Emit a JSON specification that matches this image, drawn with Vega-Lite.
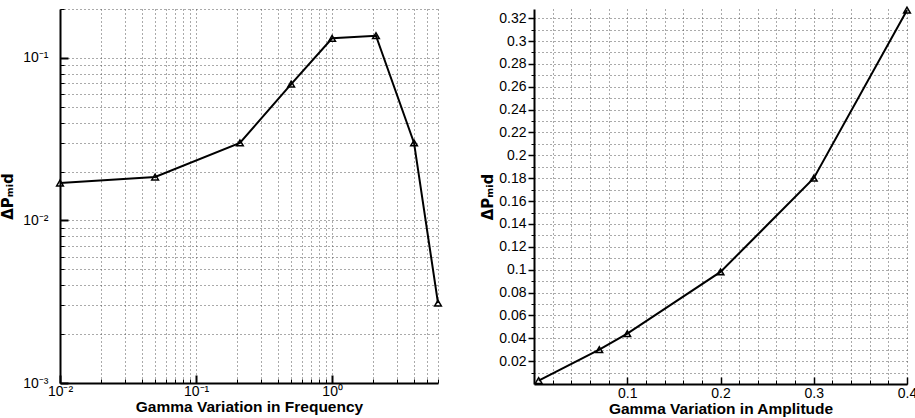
{
  "$schema": "https://vega.github.io/schema/vega-lite/v6.json",
  "padding": {"left": 0, "top": 4, "right": 0, "bottom": 0},
  "spacing": 35,
  "config": {
    "view": {"stroke": null},
    "font": "Liberation Sans",
    "axis": {"labelColor": "black", "titleColor": "black", "labelFontSize": 14, "titleFontSize": 15.5, "titleFontWeight": "bold", "domainColor": "black", "domainWidth": 2, "tickColor": "black", "gridColor": "#555", "gridDash": [1, 3], "gridWidth": 1}
  },
  "datasets": {
    "freq": [
      {"gamma": 0.01, "dP": 0.017},
      {"gamma": 0.05, "dP": 0.0185},
      {"gamma": 0.21, "dP": 0.030},
      {"gamma": 0.5, "dP": 0.069},
      {"gamma": 1.0, "dP": 0.132},
      {"gamma": 2.1, "dP": 0.137},
      {"gamma": 4.0, "dP": 0.030},
      {"gamma": 6.0, "dP": 0.0031}
    ],
    "amp": [
      {"gamma": 0.005, "dP": 0.003},
      {"gamma": 0.07, "dP": 0.030},
      {"gamma": 0.1, "dP": 0.044},
      {"gamma": 0.2, "dP": 0.098},
      {"gamma": 0.3, "dP": 0.18},
      {"gamma": 0.4, "dP": 0.327}
    ]
  },
  "hconcat": [
    {
      "width": 378,
      "height": 374,
      "data": {"name": "freq"},
      "resolve": {"axis": {"x": "independent", "y": "independent"}},
      "layer": [
        {
          "mark": {"type": "line", "color": "black", "strokeWidth": 2},
          "encoding": {
            "x": {"field": "gamma", "type": "quantitative", "scale": {"type": "log", "domain": [0.01, 6], "nice": false},
              "axis": {"orient": "bottom", "values": [0.01, 0.1, 1], "labelExpr": "datum.value < 0.05 ? '10⁻²' : datum.value < 0.5 ? '10⁻¹' : '10⁰'", "tickSize": -8, "tickWidth": 2, "grid": false, "labelPadding": 9, "title": "Gamma Variation in Frequency", "titlePadding": 1, "labelFlush": false}},
            "y": {"field": "dP", "type": "quantitative", "scale": {"type": "log", "domain": [0.001, 0.2], "nice": false},
              "axis": {"orient": "left", "values": [0.001, 0.01, 0.1], "labelExpr": "datum.value < 0.005 ? '10⁻³' : datum.value < 0.05 ? '10⁻²' : '10⁻¹'", "tickSize": -8, "tickWidth": 2, "grid": false, "labelPadding": 20, "title": "ΔPₘᵢd", "titleFont": "DejaVu Sans", "titleFontSize": 15, "titlePadding": 7, "labelFlush": false}}
          }
        },
        {
          "mark": {"type": "point", "shape": "triangle-up", "filled": false, "stroke": "black", "strokeWidth": 1.5, "size": 45, "opacity": 1},
          "encoding": {
            "x": {"field": "gamma", "type": "quantitative", "scale": {"type": "log", "domain": [0.01, 6], "nice": false},
              "axis": {"orient": "bottom", "values": [0.02, 0.03, 0.04, 0.05, 0.06, 0.07, 0.08, 0.09, 0.1, 0.2, 0.3, 0.4, 0.5, 0.6, 0.7, 0.8, 0.9, 1, 2, 3, 4, 5, 6], "labels": false, "domain": false, "tickSize": -4, "tickWidth": 1, "grid": true, "title": null}},
            "y": {"field": "dP", "type": "quantitative", "scale": {"type": "log", "domain": [0.001, 0.2], "nice": false},
              "axis": {"orient": "left", "values": [0.002, 0.003, 0.004, 0.005, 0.006, 0.007, 0.008, 0.009, 0.01, 0.02, 0.03, 0.04, 0.05, 0.06, 0.07, 0.08, 0.09, 0.1, 0.2], "labels": false, "domain": false, "tickSize": -4, "tickWidth": 1, "grid": true, "title": null}}
          }
        }
      ]
    },
    {
      "width": 373,
      "height": 375,
      "data": {"name": "amp"},
      "resolve": {"axis": {"x": "independent", "y": "independent"}},
      "layer": [
        {
          "mark": {"type": "line", "color": "black", "strokeWidth": 2},
          "encoding": {
            "x": {"field": "gamma", "type": "quantitative", "scale": {"domain": [0, 0.4], "nice": false, "zero": false},
              "axis": {"orient": "bottom", "values": [0.1, 0.2, 0.3, 0.4], "format": ".1f", "tickSize": -7, "tickWidth": 1.5, "grid": false, "labelPadding": 9, "title": "Gamma Variation in Amplitude", "titlePadding": 1, "labelFlush": false}},
            "y": {"field": "dP", "type": "quantitative", "scale": {"domain": [0, 0.328], "nice": false, "zero": false},
              "axis": {"orient": "left", "values": [0.02, 0.04, 0.06, 0.08, 0.1, 0.12, 0.14, 0.16, 0.18, 0.2, 0.22, 0.24, 0.26, 0.28, 0.3, 0.32], "format": ".2~f", "tickSize": 6, "tickWidth": 1.5, "grid": false, "labelPadding": 2, "title": "ΔPₘᵢd", "titleFont": "DejaVu Sans", "titleFontSize": 15, "titlePadding": 3, "labelFlush": false}}
          }
        },
        {
          "mark": {"type": "point", "shape": "triangle-up", "filled": false, "stroke": "black", "strokeWidth": 1.5, "size": 45, "opacity": 1},
          "encoding": {
            "x": {"field": "gamma", "type": "quantitative", "scale": {"domain": [0, 0.4], "nice": false, "zero": false},
              "axis": {"orient": "bottom", "values": [0.02, 0.04, 0.06, 0.08, 0.1, 0.12, 0.14, 0.16, 0.18, 0.2, 0.22, 0.24, 0.26, 0.28, 0.3, 0.32, 0.34, 0.36, 0.38, 0.4], "labels": false, "domain": false, "tickSize": -4, "tickWidth": 1, "grid": true, "title": null}},
            "y": {"field": "dP", "type": "quantitative", "scale": {"domain": [0, 0.328], "nice": false, "zero": false},
              "axis": {"orient": "left", "values": [0.01, 0.02, 0.03, 0.04, 0.05, 0.06, 0.07, 0.08, 0.09, 0.1, 0.11, 0.12, 0.13, 0.14, 0.15, 0.16, 0.17, 0.18, 0.19, 0.2, 0.21, 0.22, 0.23, 0.24, 0.25, 0.26, 0.27, 0.28, 0.29, 0.3, 0.31, 0.32], "labels": false, "domain": false, "tickSize": 3, "tickWidth": 1, "grid": true, "title": null}}
          }
        }
      ]
    }
  ]
}
